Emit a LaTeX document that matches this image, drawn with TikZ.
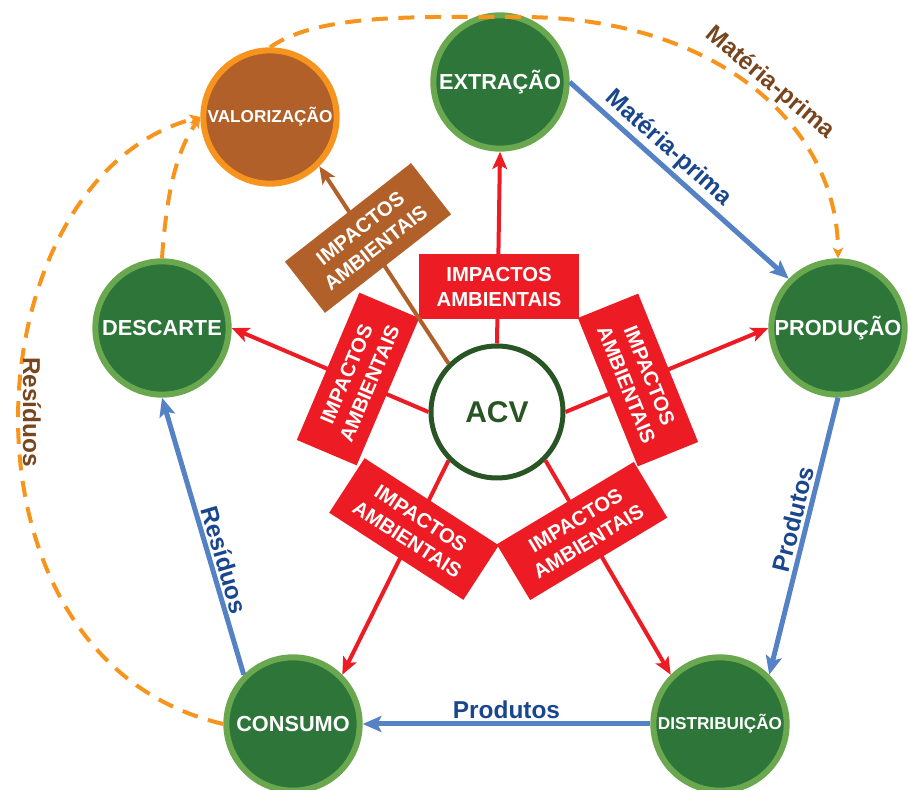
\documentclass[tikz,border=0pt]{standalone}
\usepackage{fontspec}
\setmainfont{Liberation Sans}
\usetikzlibrary{arrows.meta}
\definecolor{verde}{RGB}{46,117,58}
\definecolor{verdeclaro}{RGB}{106,168,79}
\definecolor{verdeescuro}{RGB}{40,85,35}
\definecolor{marrom}{RGB}{177,96,41}
\definecolor{laranja}{RGB}{247,148,29}
\definecolor{vermelho}{RGB}{237,28,36}
\definecolor{azul}{RGB}{84,130,197}
\definecolor{azulescuro}{RGB}{25,70,140}
\definecolor{castanho}{RGB}{120,70,30}
\begin{document}
\begin{tikzpicture}[
    x=0.75pt, y=0.75pt,
    etapa/.style={circle, draw=verdeclaro, fill=verde, line width=4.5pt, minimum size=100pt,
        inner sep=0pt, text=white, font=\bfseries\fontsize{16.3}{19}\selectfont},
    menor/.style={font=\bfseries\fontsize{12.9}{15}\selectfont},
    centro/.style={circle, draw=verdeescuro, fill=white, line width=3.75pt, minimum size=99pt,
        inner sep=0pt, text=verdeescuro, font=\bfseries\fontsize{22.5}{26}\selectfont},
    impacto/.style={fill=vermelho, text=white, minimum width=120pt, minimum height=48.75pt,
        inner sep=0pt, align=center, font=\bfseries\fontsize{15.2}{18.7}\selectfont},
    seta/.style={line width=3pt, color=vermelho, -{Stealth[length=13pt, width=11pt, inset=3pt]}},
    fluxo/.style={line width=3.75pt, color=azul, -{Stealth[length=14pt, width=12pt, inset=3pt]}},
    retorno/.style={line width=3pt, color=laranja, dash pattern=on 12pt off 8pt,
        -{Stealth[length=8pt, width=8pt, inset=2pt]}},
    rotulo/.style={text=azulescuro, inner sep=2pt, font=\bfseries\fontsize{18.3}{22}\selectfont},
    volta/.style={text=castanho, inner sep=0pt, font=\bfseries\fontsize{18.3}{22}\selectfont}
]
\useasboundingbox (0,0) rectangle (908,790);
\node[etapa] (extracao) at (500,708) {EXTRAÇÃO};
\node[etapa, menor, draw=laranja, fill=marrom] (valorizacao) at (270,673) {VALORIZAÇÃO};
\node[etapa] (producao) at (838,462) {PRODUÇÃO};
\node[etapa] (descarte) at (162,462) {DESCARTE};
\node[etapa] (consumo) at (293,66) {CONSUMO};
\node[etapa, menor] (distribuicao) at (720,66) {DISTRIBUIÇÃO};
\node[centro] (acv) at (497,378) {ACV};
\coordinate (topo) at (520,773);

\draw[seta] (acv.north) -- (extracao.south);
\draw[seta] (acv.east) -- (producao.west);
\draw[seta] (acv.south east) -- (distribuicao.north west);
\draw[seta] (acv.south west) -- (consumo.north east);
\draw[seta] (acv.west) -- (descarte.east);

\node[impacto] (imp-ext) at (499,503) {IMPACTOS\\AMBIENTAIS};
\node[impacto, rotate=-68] (imp-prod) at (638,410) {IMPACTOS\\AMBIENTAIS};
\node[impacto, rotate=31] (imp-dist) at (582,259) {IMPACTOS\\AMBIENTAIS};
\node[impacto, rotate=-33] (imp-cons) at (414,261) {IMPACTOS\\AMBIENTAIS};
\node[impacto, rotate=67] (imp-desc) at (358,411) {IMPACTOS\\AMBIENTAIS};

\draw[seta, color=marrom] (acv.north west) -- (valorizacao.south east);
\node[impacto, fill=marrom, rotate=38] (imp-val) at (368,552) {IMPACTOS\\AMBIENTAIS};

\draw[fluxo] (extracao.east) -- node[rotulo, sloped, above, pos=0.4] (mp) {Matéria-prima} (producao.north west);
\draw[fluxo] (producao.south) -- node[rotulo, sloped, above, pos=0.45] (prod1) {Produtos} (distribuicao.north east);
\draw[fluxo] (distribuicao.west) -- node[rotulo, above] (prod2) {Produtos} (consumo.east);
\draw[fluxo] (consumo.north west) -- node[rotulo, sloped, above, pos=0.4] (res1) {Resíduos} (descarte.south);

\draw[retorno] (valorizacao.north) .. controls +(35:60) and +(180:100) .. (topo)
    .. controls +(0:200) and +(90:130) .. (producao.north);
\draw[retorno] (descarte.north) .. controls +(86:70) and +(235:40) .. (valorizacao.west);
\draw[retorno] (consumo.west) .. controls +(167:290) and +(195:240) .. (valorizacao.west);
\node[volta, rotate=-40] (mp2) at (770,707) {Matéria-prima};
\node[volta, rotate=-90] (res2) at (32,378) {Resíduos};
\end{tikzpicture}
\end{document}
